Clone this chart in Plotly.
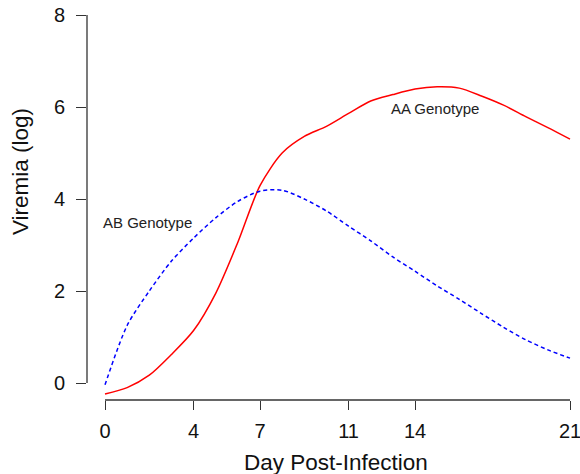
import plotly.graph_objects as go

days = list(range(0, 22))
aa_genotype = [-0.24, -0.10, 0.17, 0.62, 1.14, 1.95, 3.06, 4.29, 5.00, 5.36, 5.58,
               5.86, 6.13, 6.27, 6.39, 6.44, 6.41, 6.24, 6.04, 5.79, 5.55, 5.30]
ab_genotype = [-0.04, 1.25, 2.00, 2.65, 3.15, 3.59, 3.95, 4.17, 4.19, 4.00, 3.74,
               3.41, 3.09, 2.74, 2.43, 2.11, 1.82, 1.51, 1.21, 0.94, 0.72, 0.54]
x_ticks = [0, 4, 7, 11, 14, 21]
y_ticks = [0, 2, 4, 6, 8]

FONT = "Liberation Sans, Arial, sans-serif"
AXIS_COLOR = "#333333"

fig = go.Figure()
fig.add_trace(go.Scatter(x=days, y=aa_genotype, mode="lines",
                         line=dict(color="#FF0000", width=1.5, shape="spline", smoothing=0.8),
                         showlegend=False, hoverinfo="skip"))
fig.add_trace(go.Scatter(x=days, y=ab_genotype, mode="lines",
                         line=dict(color="#0000FF", width=1.5, dash="4px,3px", shape="spline", smoothing=0.8),
                         showlegend=False, hoverinfo="skip"))

# R-style axis lines spanning only first to last tick
fig.add_shape(type="line", xref="paper", yref="y", x0=0, x1=0,
              y0=y_ticks[0], y1=y_ticks[-1], line=dict(color=AXIS_COLOR, width=1.3))
fig.add_shape(type="line", xref="x", yref="paper", y0=0, y1=0,
              x0=x_ticks[0], x1=x_ticks[-1], line=dict(color=AXIS_COLOR, width=1.3))

fig.add_annotation(x=1.92, y=3.485, xref="x", yref="y", text="AB Genotype",
                   showarrow=False, font=dict(family=FONT, size=15, color="#222222"))
fig.add_annotation(x=14.9, y=5.957, xref="x", yref="y", text="AA Genotype",
                   showarrow=False, font=dict(family=FONT, size=15, color="#222222"))

fig.add_annotation(x=-0.1370, y=0.5846, xref="paper", yref="paper", text="Viremia (log)",
                   textangle=-90, showarrow=False, xanchor="center", yanchor="middle",
                   font=dict(family=FONT, size=22.5, color="#111111"))
fig.add_annotation(x=0.5102, y=-0.160, xref="paper", yref="paper", text="Day Post-Infection",
                   showarrow=False, xanchor="center", yanchor="middle",
                   font=dict(family=FONT, size=22.5, color="#111111"))

fig.update_layout(
    width=580, height=474,
    margin=dict(l=87, r=4, t=10, b=74, autoexpand=False),
    paper_bgcolor="white", plot_bgcolor="white",
    showlegend=False,
    xaxis=dict(range=[-0.8129, 21.271], tickmode="array", tickvals=x_ticks,
               ticktext=[str(v) for v in x_ticks], automargin=False,
               showgrid=False, zeroline=False, showline=False,
               ticks="outside", ticklen=9, tickwidth=1.3, tickcolor=AXIS_COLOR,
               ticklabelstandoff=4, ticklabeloverflow="allow",
               tickfont=dict(family=FONT, size=20, color="#111111")),
    yaxis=dict(range=[-0.3696, 8.1087], tickmode="array", tickvals=y_ticks,
               ticktext=[str(v) for v in y_ticks], automargin=False,
               showgrid=False, zeroline=False, showline=False,
               ticks="outside", ticklen=10, tickwidth=1.3, tickcolor=AXIS_COLOR,
               ticklabelstandoff=7, ticklabeloverflow="allow",
               tickfont=dict(family=FONT, size=20, color="#111111")),
)

fig.write_html("out.html", config={"displayModeBar": False},
               post_script="document.body.style.margin='0px';document.body.style.overflow='hidden';")
